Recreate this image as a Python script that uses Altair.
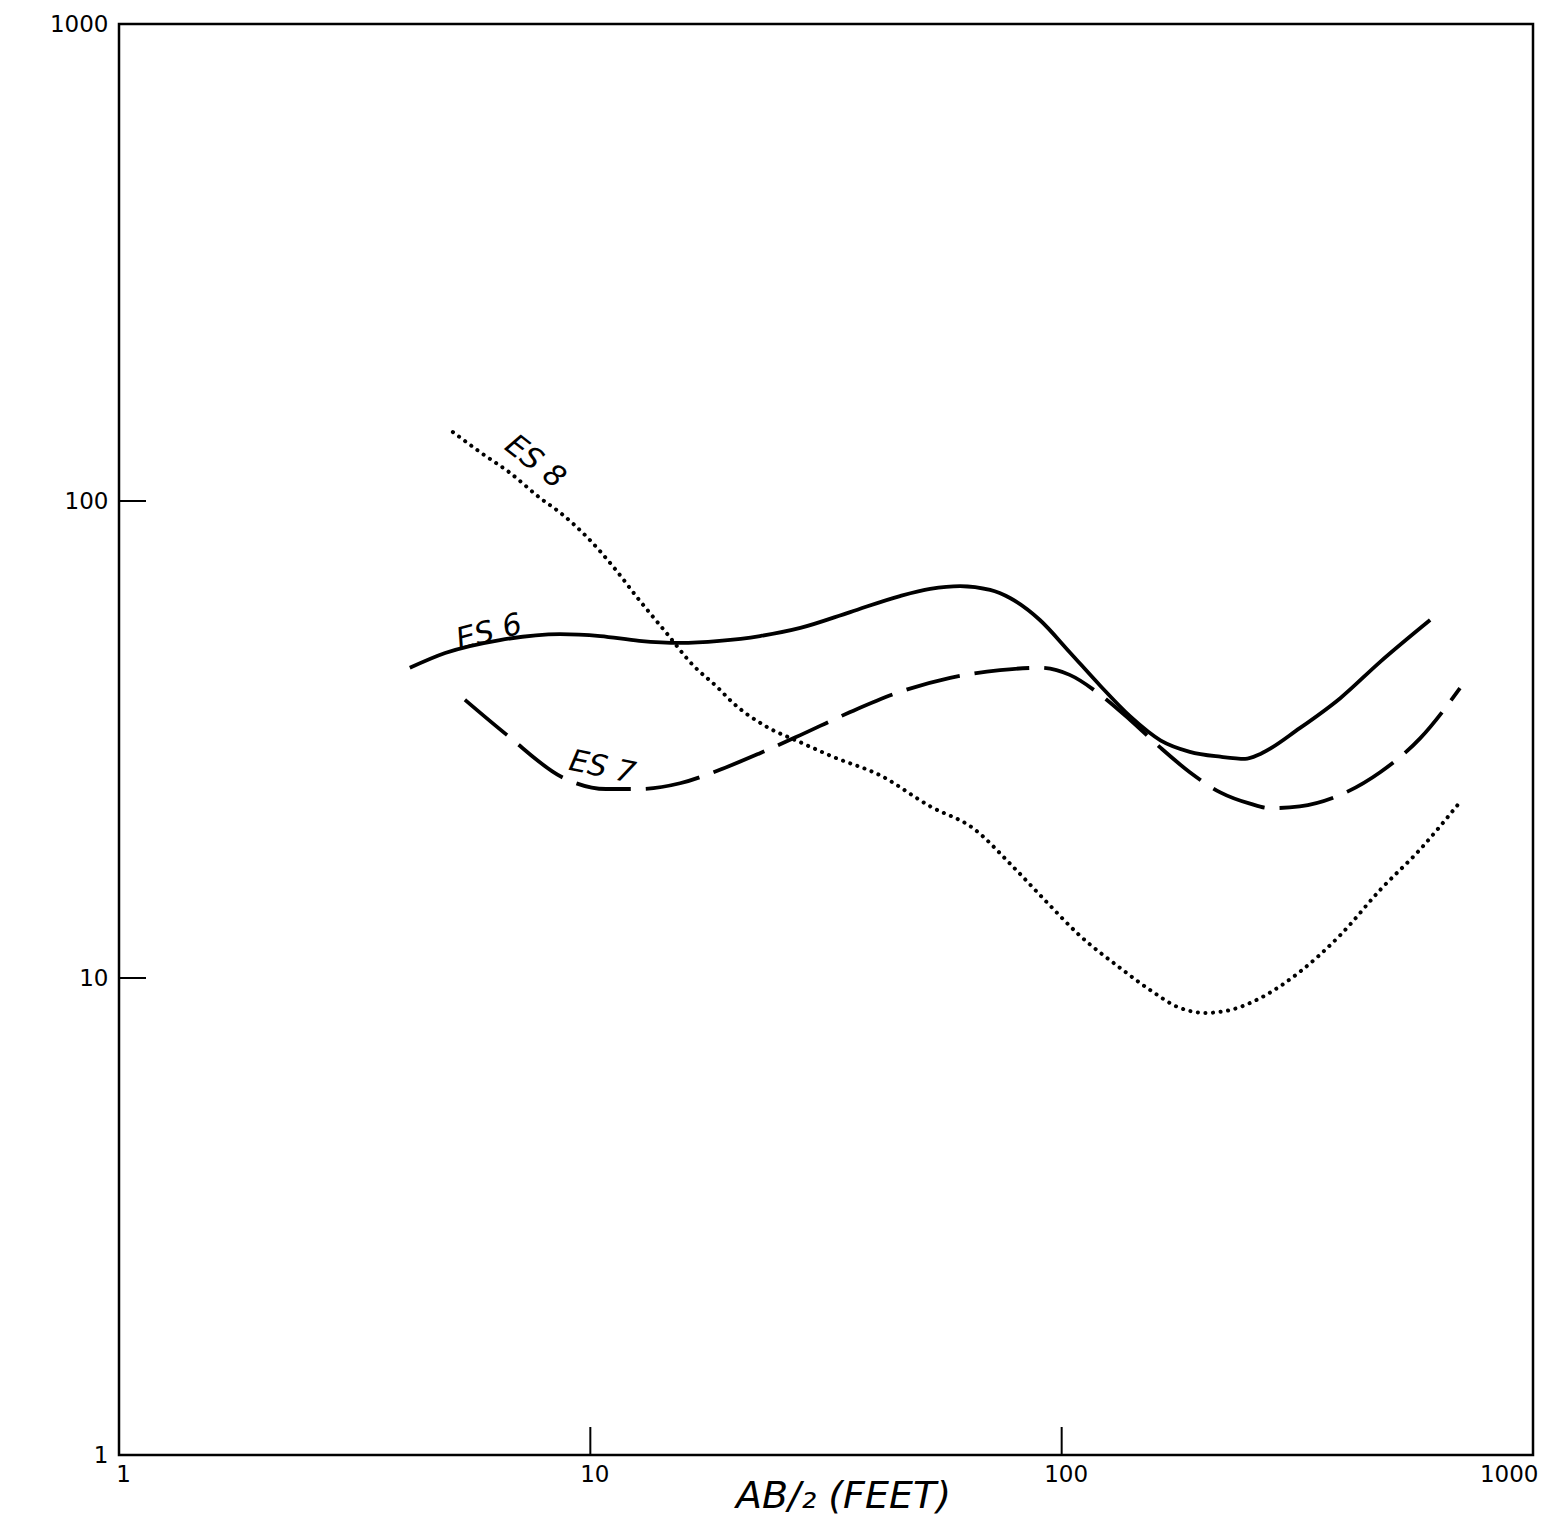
import altair as alt
import pandas as pd

# ---- data (AB/2 in feet, apparent resistivity) ----
es6_x = [4.14, 4.92, 6.43, 8.62, 10.5, 12.7, 15.5, 18.8, 22.9, 27.9, 35.6, 45.4, 52.6, 60.9,
         70.5, 77.7, 89.9, 104, 121, 140, 162, 187, 217, 245, 264, 320, 390, 474, 605]
es6_y = [44.7, 48.0, 51.1, 52.6, 52.1, 50.9, 50.4, 50.9, 52.1, 54.2, 58.5, 63.2, 65.4, 66.3,
         65.1, 62.6, 56.3, 48.2, 40.9, 35.3, 31.5, 29.8, 29.1, 28.8, 29.5, 33.4, 38.6, 46.0, 56.3]

es7_x = [5.42, 6.66, 8.75, 10.8, 12.7, 15.5, 18.6, 22.9, 27.9, 35.6, 45.4, 58.0, 74.0, 89.9,
         104, 121, 140, 162, 187, 217, 251, 277, 320, 390, 474, 576, 700]
es7_y = [38.3, 32.3, 26.3, 24.9, 24.9, 25.6, 27.2, 29.6, 32.3, 36.1, 39.8, 42.6, 44.2, 44.7,
         43.2, 39.2, 34.7, 30.4, 27.0, 24.5, 23.2, 22.7, 22.9, 24.2, 27.0, 31.8, 40.5]

es8_x = [5.11, 5.83, 6.76, 7.82, 8.62, 9.84, 11.2, 12.7, 14.5, 16.5, 18.6, 20.1, 23.7, 27.9,
         32.7, 41.2, 52.6, 64.9, 78.9, 93.1, 109, 133, 154, 176, 202, 228, 264, 320, 390, 474,
         576, 693]
es8_y = [139.5, 126.7, 114.5, 101.5, 94.6, 84.0, 72.7, 62.0, 52.9, 45.3, 40.7, 37.7, 33.6, 31.2,
         29.1, 26.6, 22.9, 20.6, 17.1, 14.4, 12.3, 10.5, 9.44, 8.7, 8.45, 8.57, 9.08, 10.3, 12.3,
         15.3, 18.6, 23.1]

tick_values = [1, 10, 100, 1000]
inner_ticks = [10, 100]

# curve labels: text, AB/2, resistivity, angle
label_text = ["ES 6", "ES 7", "ES 8"]
label_x = [6.1, 10.6, 7.63]
label_y = [53.0, 27.6, 120.7]
label_angle = [345, 12, 38]

W, H = 1414, 1431
FONT = "DejaVu Sans"

xscale = alt.Scale(type="log", domain=[1, 1000], nice=False)
yscale = alt.Scale(type="log", domain=[1, 1000], nice=False)

xaxis = alt.Axis(values=tick_values, format="d", title="AB/\u2082 (FEET)", grid=False,
                 domain=False, ticks=False, labelFontSize=23, labelPadding=8,
                 labelFlush=False, labelOverlap=False, labelColor="black", labelFont=FONT,
                 labelAlign={"condition": {"test": "datum.value >= 1000", "value": "right"},
                             "value": "center"},
                 labelOffset={"condition": {"test": "datum.value >= 1000", "value": 5},
                              "value": 4},
                 titleFont=FONT, titleFontSize=38, titleFontStyle="italic",
                 titleFontWeight="normal", titleColor="black", titleX=724, titleY=52,
                 titleAlign="center", titleBaseline="alphabetic")
yaxis = alt.Axis(values=tick_values, format="d", title="", grid=False, domain=False,
                 ticks=False, labelFontSize=23, labelPadding=11, labelFlush=False,
                 labelOverlap=False, labelColor="black", labelFont=FONT)


def curve(xs, ys, **style):
    df = pd.DataFrame({"ab2": xs, "rho": ys})
    return alt.Chart(df).mark_line(color="black", interpolate="monotone", **style).encode(
        x=alt.X("ab2:Q", scale=xscale, axis=xaxis),
        y=alt.Y("rho:Q", scale=yscale, axis=yaxis),
        order="ab2:Q",
    )


es6 = curve(es6_x, es6_y, strokeWidth=3.8)
es7 = curve(es7_x, es7_y, strokeWidth=3.8, strokeDash=[55, 15])
es8 = curve(es8_x, es8_y, strokeWidth=4, strokeDash=[0.1, 7.5], strokeCap="round")

ytick = alt.Chart(pd.DataFrame({"v": inner_ticks})).mark_rule(color="black", strokeWidth=2).encode(
    y=alt.Y("v:Q", scale=yscale, axis=yaxis), x=alt.value(0), x2=alt.value(27))
xtick = alt.Chart(pd.DataFrame({"v": inner_ticks})).mark_rule(color="black", strokeWidth=2).encode(
    x=alt.X("v:Q", scale=xscale, axis=xaxis), y=alt.value(H), y2=alt.value(H - 28))

labels = []
for t, lx, ly, a in zip(label_text, label_x, label_y, label_angle):
    ldf = pd.DataFrame({"ab2": [lx], "rho": [ly], "t": [t]})
    labels.append(
        alt.Chart(ldf).mark_text(font=FONT, fontSize=30, fontStyle="italic", angle=a,
                                 align="center", baseline="middle", color="black").encode(
            x=alt.X("ab2:Q", scale=xscale, axis=xaxis),
            y=alt.Y("rho:Q", scale=yscale, axis=yaxis),
            text="t:N")
    )

chart = alt.layer(es6, es7, es8, ytick, xtick, *labels).properties(
    width=W, height=H,
    autosize=alt.AutoSizeParams(type="none"),
    padding={"left": 111, "top": 16, "right": 6, "bottom": 72},
    background="white",
).configure_view(stroke="black", strokeWidth=2.5)

chart.save("out.html", embed_options={"renderer": "svg", "actions": False})
